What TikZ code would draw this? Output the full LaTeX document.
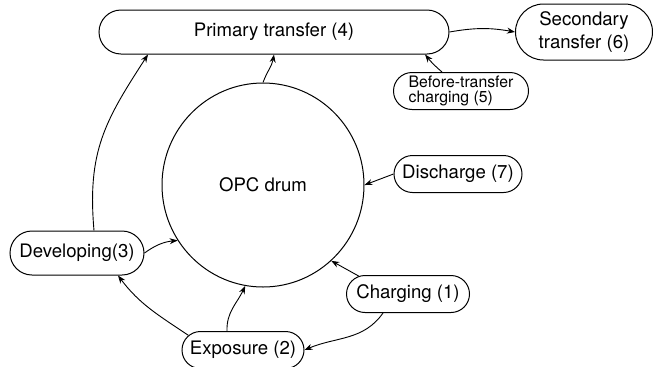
\documentclass[tikz,border=0pt]{standalone}
\usepackage{fontspec}
\setmainfont{TeX Gyre Heros}
\usetikzlibrary{shapes.geometric, shapes.misc, arrows.meta, positioning}

\begin{document}
\begin{tikzpicture}[
	  x=0.5pt, y=0.5pt,
	  stage/.style={rounded rectangle, draw=black, line width=0.5pt, inner sep=0pt, minimum height=18.5pt, text centered, font=\fontsize{9.3}{11.5}\selectfont},
	  smallstage/.style={stage, align=left, font=\fontsize{7.9}{7.8}\selectfont},
	  drumnode/.style={ellipse, draw=black, line width=0.5pt, minimum width=101pt, minimum height=102pt, font=\fontsize{9.3}{11.5}\selectfont},
	  arrow/.style={->, >={Stealth[length=4pt, width=3pt]}, line width=0.45pt}
	]
	\useasboundingbox (0,0) rectangle (653,366);

	\node (drum) [drumnode] at (263,181) {OPC drum};
	\node (primary) [stage, minimum width=175pt, minimum height=22pt] at (274,334) {Primary transfer (4)};
	\node (secondary) [stage, align=center, minimum width=68.5pt, minimum height=28pt] at (584,334) {Secondary\\transfer (6)};
	\node (before) [smallstage, minimum width=67.5pt] at (461,275) {Before-transfer\\charging (5)};
	\node (discharge) [stage, minimum width=64pt] at (458,192) {Discharge (7)};
	\node (developing) [stage, minimum width=67pt, minimum height=22pt] at (77,113) {Developing(3)};
	\node (charging) [stage, minimum width=61.5pt] at (408,72) {Charging (1)};
	\node (exposure) [stage, minimum width=61pt] at (243,16) {Exposure (2)};

	\draw [arrow] (primary.east) to[bend left=10] (secondary.west);
	\draw [arrow] ([xshift=-9.5pt]before.north) to[bend left=5] ([xshift=75.5pt]primary.south);
	\draw [arrow] (drum.north) to[out=70, in=-100] (primary.south);
	\draw [arrow] ([xshift=8.5pt]developing.north) to[out=95, in=-123, looseness=1.1] ([xshift=-63pt]primary.south);
	\draw [arrow] (developing.east) to[bend left=15] (drum.213);
	\draw [arrow] (exposure.165) to[out=146, in=-53] ([xshift=20.5pt]developing.south);
	\draw [arrow] ([xshift=-8pt]exposure.north) to[out=92, in=-115] (drum.260);
	\draw [arrow] ([xshift=-12.5pt]charging.south) to[out=-125, in=23] (exposure.east);
	\draw [arrow] (charging.160) -- (drum.-48);
	\draw [arrow] (discharge.west) -- (drum.east);

\end{tikzpicture}
\end{document}
